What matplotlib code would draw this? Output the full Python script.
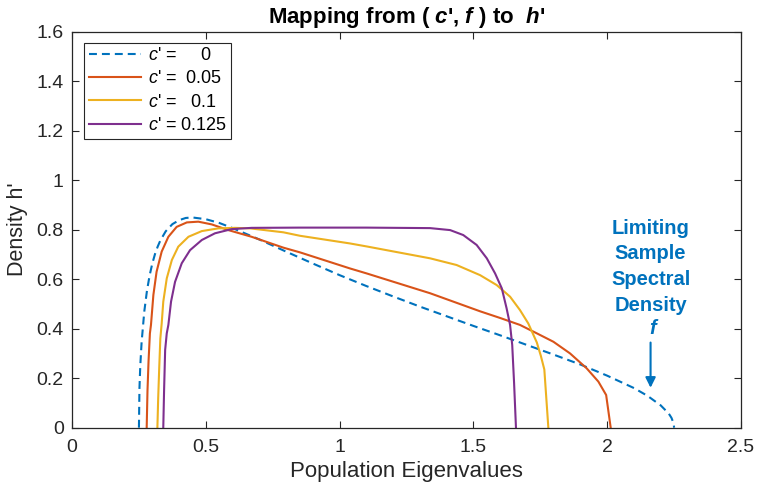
import matplotlib
matplotlib.use("Agg")
import matplotlib.pyplot as plt

plt.rcParams["font.family"] = ["Liberation Sans", "DejaVu Sans"]
plt.rcParams["mathtext.fontset"] = "custom"
plt.rcParams["mathtext.rm"] = "Liberation Sans"
plt.rcParams["mathtext.it"] = "Liberation Sans:italic"
plt.rcParams["mathtext.bf"] = "Liberation Sans:bold"
plt.rcParams["mathtext.bfit"] = "Liberation Sans:bold:italic"

# c' = 0 : limiting sample spectral density f
x_c0 = [0.25, 0.252, 0.255, 0.26, 0.27, 0.28, 0.29, 0.30, 0.31, 0.32, 0.33, 0.35,
        0.375, 0.40, 0.425, 0.45, 0.50, 0.55, 0.60, 0.70, 0.80, 0.90, 1.00, 1.10,
        1.20, 1.30, 1.40, 1.50, 1.60, 1.70, 1.80, 1.90, 2.00, 2.10, 2.15, 2.20,
        2.23, 2.24, 2.248, 2.25]
h_c0 = [0.0, 0.160, 0.249, 0.345, 0.469, 0.553, 0.615, 0.663, 0.701, 0.731, 0.756, 0.793,
        0.822, 0.838, 0.847, 0.849, 0.842, 0.827, 0.806, 0.760, 0.711, 0.663, 0.616, 0.572,
        0.530, 0.489, 0.450, 0.411, 0.373, 0.334, 0.295, 0.255, 0.210, 0.160, 0.129, 0.090,
        0.057, 0.040, 0.018, 0.0]

# c' = 0.05
x_c05 = [0.279, 0.282, 0.286, 0.291, 0.295, 0.304, 0.316, 0.335, 0.360, 0.391, 0.429,
         0.472, 0.522, 0.584, 0.671, 0.790, 0.852, 1.039, 1.101, 1.338, 1.525, 1.600,
         1.674, 1.737, 1.799, 1.861, 1.923, 1.967, 1.996, 2.013]
h_c05 = [0.0, 0.15, 0.27, 0.381, 0.415, 0.536, 0.630, 0.711, 0.771, 0.811, 0.829,
         0.832, 0.821, 0.798, 0.771, 0.727, 0.708, 0.643, 0.623, 0.543, 0.470, 0.443,
         0.415, 0.381, 0.347, 0.300, 0.240, 0.186, 0.132, 0.0]

# c' = 0.1
x_c10 = [0.319, 0.322, 0.326, 0.330, 0.335, 0.341, 0.354, 0.373, 0.397, 0.435, 0.485,
         0.547, 0.609, 0.665, 0.790, 0.852, 1.039, 1.101, 1.338, 1.437, 1.525, 1.587,
         1.637, 1.674, 1.705, 1.737, 1.752, 1.765, 1.780]
h_c10 = [0.0, 0.12, 0.246, 0.36, 0.42, 0.509, 0.603, 0.677, 0.731, 0.771, 0.794,
         0.805, 0.807, 0.805, 0.789, 0.775, 0.744, 0.732, 0.684, 0.657, 0.616, 0.576,
         0.529, 0.475, 0.421, 0.344, 0.290, 0.235, 0.0]

# c' = 0.125
x_c125 = [0.341, 0.344, 0.348, 0.354, 0.360, 0.370, 0.385, 0.410, 0.441, 0.485, 0.534,
          0.597, 0.671, 0.85, 1.10, 1.338, 1.413, 1.462, 1.512, 1.550, 1.581, 1.606,
          1.624, 1.637, 1.645, 1.652, 1.659]
h_c125 = [0.0, 0.15, 0.314, 0.381, 0.415, 0.509, 0.589, 0.664, 0.717, 0.758, 0.785,
          0.802, 0.807, 0.808, 0.808, 0.806, 0.798, 0.778, 0.738, 0.684, 0.623, 0.563,
          0.482, 0.415, 0.334, 0.18, 0.0]

labels = ["$c$' =     0", "$c$' =  0.05", "$c$' =   0.1", "$c$' = 0.125"]
colors = ["#0072BD", "#D95319", "#EDB120", "#7E2F8E"]

fig = plt.figure(figsize=(7.59, 4.87), dpi=100)
ax = fig.add_axes([0.0949, 0.1218, 0.8814, 0.8135])

ax.plot(x_c0, h_c0, color=colors[0], lw=1.5, ls="--", dashes=(3.8, 2.4), label=labels[0])
ax.plot(x_c05, h_c05, color=colors[1], lw=1.5, label=labels[1])
ax.plot(x_c10, h_c10, color=colors[2], lw=1.5, label=labels[2])
ax.plot(x_c125, h_c125, color=colors[3], lw=1.5, label=labels[3])

ax.set_xlim(0, 2.5)
ax.set_ylim(0, 1.6)
ax.set_xticks([0, 0.5, 1, 1.5, 2, 2.5])
ax.set_xticklabels(["0", "0.5", "1", "1.5", "2", "2.5"])
ax.set_yticks([0, 0.2, 0.4, 0.6, 0.8, 1, 1.2, 1.4, 1.6])
ax.set_yticklabels(["0", "0.2", "0.4", "0.6", "0.8", "1", "1.2", "1.4", "1.6"])
ax.tick_params(direction="in", length=5, width=0.8, top=True, right=True,
               labelsize=14, colors="#262626", pad=6)
ax.tick_params(axis="x", pad=8)
for s in ax.spines.values():
    s.set_color("#262626")
    s.set_linewidth(0.9)

ax.set_xlabel("Population Eigenvalues", fontsize=16, color="#262626", labelpad=4)
ax.set_ylabel("Density h'", fontsize=15.5, color="#262626", labelpad=6)
ax.set_title(r"Mapping from ( $\mathbfit{c}$', $\mathbfit{f}$ ) to  $\mathbfit{h}$'",
             fontsize=16, fontweight="bold", pad=6)

leg = ax.legend(loc="upper left", fontsize=13, handlelength=2.9, handletextpad=0.35,
                borderpad=0.25, labelspacing=0.35, fancybox=False, framealpha=1,
                bbox_to_anchor=(0.005, 0.995))
leg.get_frame().set_edgecolor("#262626")
leg.get_frame().set_linewidth(0.8)

# annotation for the limiting density curve
ax.text(2.162, 0.65, "Limiting\nSample\nSpectral\nDensity", color="#0072BD",
        fontsize=14.5, fontweight="bold", ha="center", va="center", linespacing=1.45)
ax.text(2.175, 0.40, "$\\mathbfit{f}$", color="#0072BD", fontsize=14.5, ha="center", va="center")
ax.annotate("", xy=(2.162, 0.15), xytext=(2.162, 0.355),
            arrowprops=dict(arrowstyle="-|>", color="#0072BD", lw=1.5, mutation_scale=15))

fig.savefig("out.png", dpi=100)
